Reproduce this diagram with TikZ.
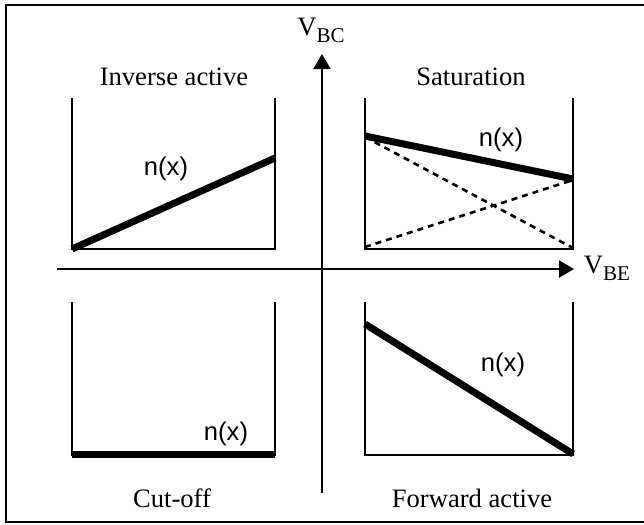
\documentclass[tikz,border=0pt]{standalone}
\usepackage{fontspec}
\setmainfont{Liberation Serif}
\newfontfamily\nxfont{Liberation Sans}
\usetikzlibrary{arrows.meta}
\newcommand{\vsub}[1]{V\raisebox{-3.5pt}{\fontsize{10.5}{11}\selectfont #1}}

\begin{document}
\begin{tikzpicture}[x=0.5pt, y=-0.5pt, >={Triangle[length=7.5pt, width=8.5pt]},
  wall/.style={line width=1.1pt},
  nline/.style={line width=3.5pt},
  guess/.style={line width=1.3pt, dash pattern=on 3pt off 2.5pt},
  region/.style={font=\fontsize{13.3}{15}\selectfont},
  nlab/.style={font=\nxfont\fontsize{12.8}{14}\selectfont},
  axlab/.style={font=\fontsize{13.3}{15}\selectfont, inner sep=0pt}]
\useasboundingbox (0,0) rectangle (644,525);
\draw[wall] (644,5) -- (6,5) -- (6,522) -- (644,522);
% axes
\coordinate (xs) at (57,269);
\coordinate (xe) at (574,269);
\coordinate (ys) at (322,493);
\coordinate (ye) at (322,54);
\draw[wall,->] (xs) -- (xe);
\draw[wall,->] (ys) -- (ye);
\node[axlab] (vbe) at (607,268) {\vsub{BE}};
\node[axlab] (vbc) at (321,30) {\vsub{BC}};
% wells
\foreach \w/\l/\r/\t/\b in {il/72/275/98/249, sa/365/573/98/249, co/72/275/302/455, fa/365/573/302/455} {
  \draw[wall] (\l,\t) -- (\l,\b) -- (\r,\b) -- (\r,\t);
}
% n(x) profiles
\draw[nline] (72,249) -- (275,158);
\draw[nline] (365,136) -- (573,179);
\draw[guess] (365,137) -- (573,248);
\draw[guess] (365,247) -- (573,180);
\draw[nline] (72,454) -- (275,454);
\draw[nline] (365,324) -- (573,454);
% labels
\node[region] (il) at (174,77) {Inverse active};
\node[region] (sa) at (471,77) {Saturation};
\node[region] (co) at (172,498) {Cut-off};
\node[region] (fa) at (472,498) {Forward active};
\node[nlab] (nil) at (166,169) {n(x)};
\node[nlab] (nsa) at (501,140) {n(x)};
\node[nlab] (nco) at (226,434) {n(x)};
\node[nlab] (nfa) at (503,365) {n(x)};
\end{tikzpicture}
\end{document}
